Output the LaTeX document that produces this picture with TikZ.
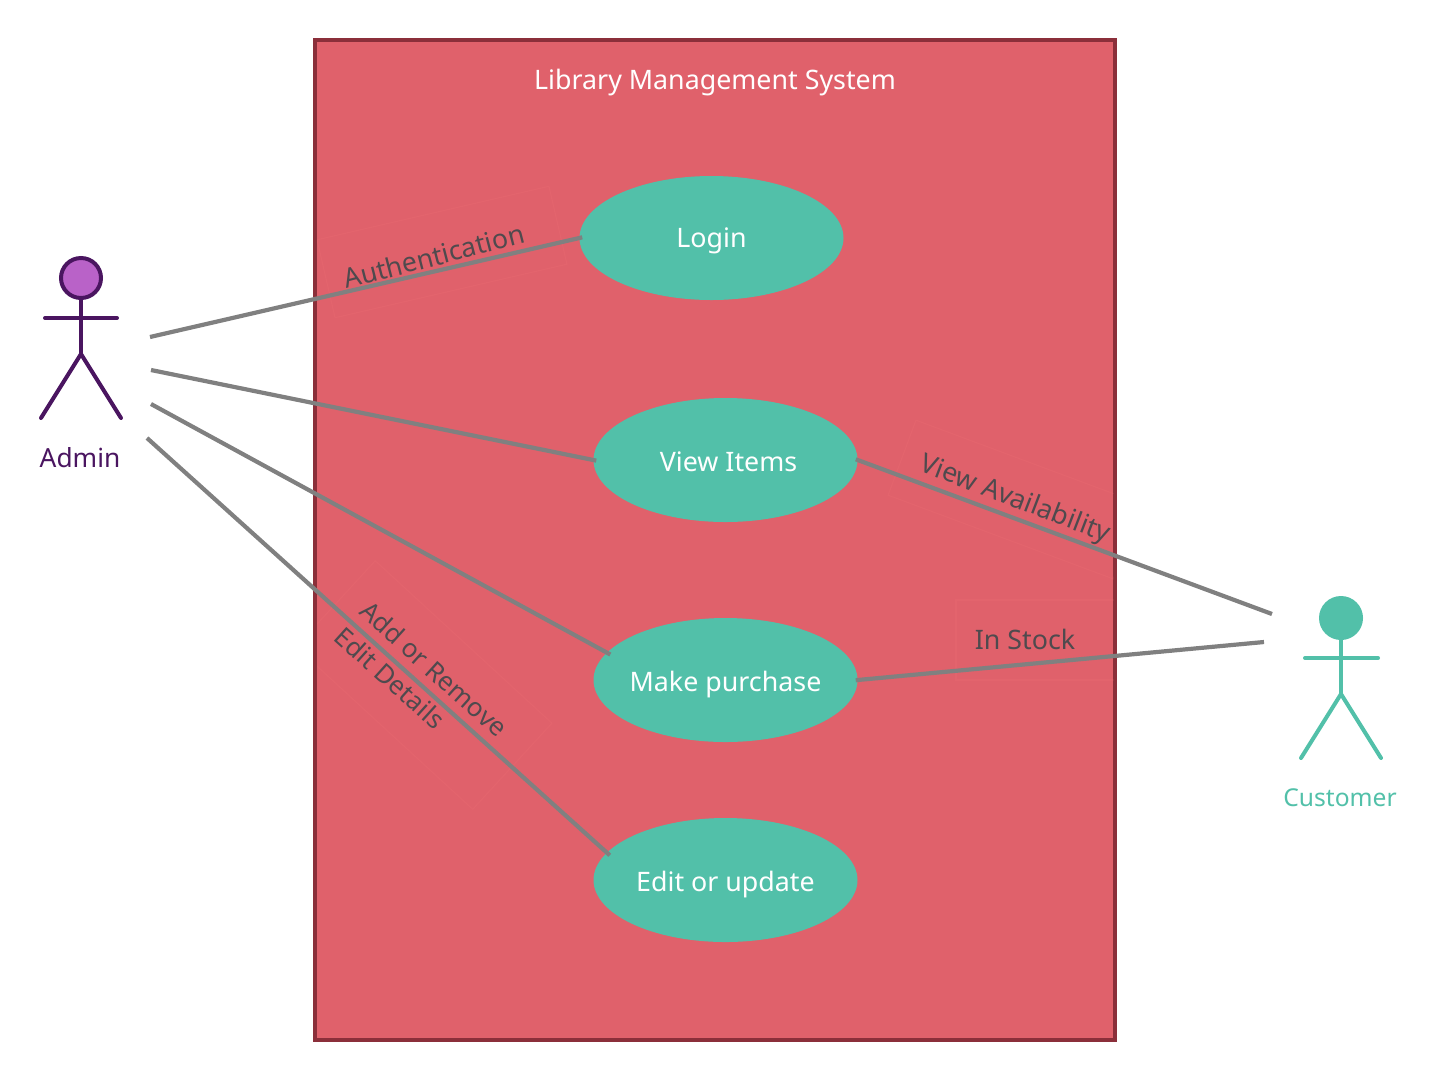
\documentclass[tikz,border=0pt]{standalone}
\usepackage{fontspec}
\setmainfont{Noto Sans}
\usetikzlibrary{shapes.geometric}
\definecolor{sysfill}{HTML}{E0616B}
\definecolor{sysedge}{HTML}{8B2F3A}
\definecolor{teal}{HTML}{52C0A9}
\definecolor{plum}{HTML}{4A1560}
\definecolor{orchid}{HTML}{B962C8}
\definecolor{wire}{HTML}{808080}
\definecolor{lbl}{HTML}{4F4A4E}
\definecolor{faint}{HTML}{E3646D}
\tikzset{
  txt/.style={font=\fontsize{26.8}{32}\selectfont, inner sep=0pt},
  system/.style={draw=sysedge, line width=4pt, fill=sysfill, minimum width=800pt, minimum height=1000pt, inner sep=0pt},
  usecase/.style={ellipse, fill=teal, minimum width=264pt, minimum height=124pt, inner sep=0pt},
  casetext/.style={txt, text=white},
  wireline/.style={draw=wire, line width=4.2pt},
  edgelabel/.style={txt, text=lbl},
  labelbox/.style={draw=faint, line width=1.2pt, inner sep=0pt},
  stick/.style={line width=4pt, line cap=round, line join=round},
}
\begin{document}
\begin{tikzpicture}[x=1pt,y=-1pt]
\useasboundingbox (0,0) rectangle (1439,1080);
\node[system] (sys) at (715,540) {};
\node[txt, text=white] (title) at (715,83) {Library Management System};
% faint label frames
\begin{scope}
\clip (317,42) rectangle (1113,1038);
\node[labelbox, minimum width=238pt, minimum height=80pt, rotate=13] (authbox) at (442,252) {};
\node[labelbox, minimum width=240pt, minimum height=80pt, rotate=-20.4] (availbox) at (1014.5,499.5) {};
\node[labelbox, minimum width=170pt, minimum height=80pt] (stockbox) at (1041,640) {};
\node[labelbox, minimum width=240pt, minimum height=117pt, rotate=-42.6] (addbox) at (424,685) {};
\end{scope}
% use cases
\node[usecase] (login) at (711.5,238) {};
\node[usecase] (view) at (725.5,460) {};
\node[usecase] (purchase) at (725.5,680) {};
\node[usecase] (edit) at (725.5,880) {};
\node[casetext] (logintext) at (711.5,241) {Login};
\node[casetext] (viewtext) at (728.5,462) {View Items};
\node[casetext] (purchasetext) at (725.5,685) {Make purchase};
\node[casetext] (edittext) at (725.5,885) {Edit or update};
% free ends
\coordinate (a1) at (150,337);
\coordinate (a2) at (151,370);
\coordinate (a3) at (151,404);
\coordinate (a4) at (147,438);
\coordinate (c1) at (1272,614);
\coordinate (c2) at (1264,642);
% connectors
\draw[wireline, shorten >=-3pt] (a1) -- (login.west);
\draw[wireline, shorten >=-3pt] (a2) -- (view.west);
\draw[wireline, shorten >=-4pt] (a3) -- (purchase.167);
\draw[wireline, shorten >=-4pt] (a4) -- (edit.167);
\draw[wireline, shorten <=-2pt] (view.east) -- (c1);
\draw[wireline, shorten <=-2pt] (purchase.east) -- (c2);
% labels
\node[edgelabel, rotate=14.5] (auth) at (434,256) {Authentication};
\node[edgelabel, rotate=-21] (avail) at (1015,500) {View Availability};
\node[edgelabel] (stock) at (1025,639) {In Stock};
\node[edgelabel, rotate=-42, font=\fontsize{26}{32}\selectfont] (addrem) at (434,669) {Add or Remove};
\node[edgelabel, rotate=-42, font=\fontsize{26}{32}\selectfont] (editdet) at (390,678) {Edit Details};
% admin actor
\node[circle, draw=plum, fill=orchid, line width=4pt, minimum size=40pt, inner sep=0pt] (adminhead) at (81,278) {};
\coordinate (adminhip) at (81,354);
\coordinate (adminl) at (45,318);
\coordinate (adminr) at (117,318);
\coordinate (adminfl) at (41,418);
\coordinate (adminfr) at (121,418);
\draw[stick, draw=plum] (adminhead.south) -- (adminhip);
\draw[stick, draw=plum] (adminl) -- (adminr);
\draw[stick, draw=plum] (adminfl) -- (adminhip) -- (adminfr);
\node[txt, text=plum, font=\fontsize{26.3}{32}\selectfont] (adminlabel) at (80,458) {Admin};
% customer actor
\node[circle, draw=teal, fill=teal, line width=4pt, minimum size=40pt, inner sep=0pt] (custhead) at (1341,618) {};
\coordinate (custhip) at (1341,694);
\coordinate (custl) at (1305,658);
\coordinate (custr) at (1378,658);
\coordinate (custfl) at (1301,758);
\coordinate (custfr) at (1381,758);
\draw[stick, draw=teal] (custhead.south) -- (custhip);
\draw[stick, draw=teal] (custl) -- (custr);
\draw[stick, draw=teal] (custfl) -- (custhip) -- (custfr);
\node[txt, text=teal, font=\fontsize{24.6}{32}\selectfont] (custlabel) at (1340,798) {Customer};
\end{tikzpicture}
\end{document}
